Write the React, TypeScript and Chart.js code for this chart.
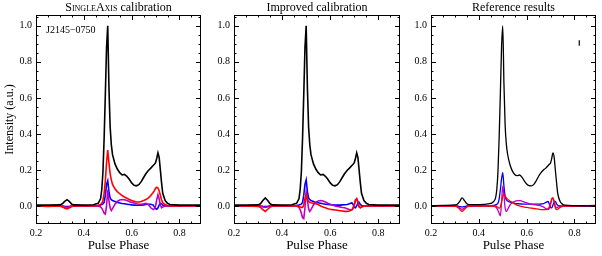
import React, { useEffect, useRef } from "react";
import { Chart, registerables } from "chart.js";
Chart.register(...registerables);

const FONT = "'Liberation Serif', 'Times New Roman', serif";

const PHASE = [
  0.2, 0.25, 0.3, 0.31, 0.32, 0.33, 0.34, 0.35, 0.36, 0.4,
  0.44, 0.46, 0.47, 0.475, 0.48, 0.485, 0.49, 0.495, 0.5, 0.505,
  0.51, 0.515, 0.52, 0.53, 0.54, 0.55, 0.56, 0.57, 0.58, 0.59,
  0.6, 0.61, 0.62, 0.63, 0.64, 0.65, 0.66, 0.67, 0.68, 0.69,
  0.695, 0.7, 0.705, 0.71, 0.715, 0.72, 0.725, 0.73, 0.74, 0.75,
  0.76, 0.8, 0.85, 0.9,
];

// SingleAxis calibration
const SA_I = [
  0.005, 0.005, 0.006, 0.012, 0.025, 0.035, 0.024, 0.01, 0.006, 0.005,
  0.007, 0.015, 0.04, 0.09, 0.19, 0.38, 0.62, 0.88, 1.0, 0.66,
  0.44, 0.34, 0.285, 0.235, 0.205, 0.185, 0.172, 0.175, 0.165, 0.148,
  0.128, 0.115, 0.112, 0.118, 0.135, 0.158, 0.18, 0.197, 0.21, 0.225,
  0.232, 0.24, 0.265, 0.295, 0.27, 0.2, 0.13, 0.07, 0.03, 0.015,
  0.008, 0.005, 0.005, 0.005,
];
const SA_Q = [
  0.0, -0.002, 0.0, -0.005, -0.012, -0.016, -0.01, -0.003, 0.0, 0.0,
  0.0, 0.003, 0.008, 0.015, 0.03, 0.07, 0.14, 0.24, 0.31, 0.24,
  0.18, 0.145, 0.12, 0.095, 0.08, 0.068, 0.058, 0.05, 0.043, 0.036,
  0.03, 0.026, 0.022, 0.022, 0.025, 0.03, 0.036, 0.045, 0.058, 0.075,
  0.085, 0.098, 0.104, 0.1, 0.085, 0.06, 0.035, 0.018, 0.008, 0.003,
  0.0, 0.0, 0.0, 0.0,
];
const SA_U = [
  0.0, 0.0, 0.0, -0.002, -0.005, -0.008, -0.004, 0.0, 0.0, 0.0,
  0.0, 0.0, -0.005, -0.012, -0.025, -0.04, -0.045, 0.0, 0.09, 0.03,
  -0.01, -0.025, -0.015, 0.01, 0.025, 0.033, 0.036, 0.035, 0.03, 0.025,
  0.02, 0.016, 0.012, 0.01, 0.01, 0.012, 0.015, 0.008, -0.01, -0.02,
  -0.015, 0.0, 0.035, 0.062, 0.04, 0.005, -0.01, -0.005, 0.0, 0.0,
  0.0, 0.0, 0.0, 0.0,
];
const SA_V = [
  0.0, 0.0, 0.0, 0.0, -0.002, -0.003, -0.002, 0.0, 0.0, 0.0,
  0.0, 0.002, 0.005, 0.008, 0.012, 0.02, 0.06, 0.12, 0.14, 0.08,
  0.045, 0.035, 0.03, 0.025, 0.02, 0.017, 0.014, 0.012, 0.01, 0.008,
  0.006, 0.005, 0.004, 0.004, 0.005, 0.006, 0.008, 0.01, 0.01, 0.005,
  -0.005, -0.015, -0.018, -0.01, 0.005, 0.015, 0.012, 0.005, 0.0, 0.0,
  0.0, 0.0, 0.0, 0.0,
];

// Improved calibration
const IMP_I = [
  0.005, 0.005, 0.006, 0.012, 0.03, 0.045, 0.03, 0.012, 0.006, 0.005,
  0.007, 0.015, 0.04, 0.09, 0.19, 0.38, 0.62, 0.88, 1.0, 0.66,
  0.44, 0.34, 0.285, 0.235, 0.205, 0.185, 0.172, 0.175, 0.165, 0.148,
  0.128, 0.115, 0.112, 0.118, 0.135, 0.158, 0.18, 0.197, 0.21, 0.225,
  0.232, 0.24, 0.265, 0.295, 0.27, 0.2, 0.13, 0.07, 0.03, 0.015,
  0.008, 0.005, 0.005, 0.005,
];
const IMP_Q = [
  0.0, 0.0, -0.002, -0.008, -0.02, -0.03, -0.018, -0.006, 0.0, 0.0,
  0.0, 0.0, -0.003, -0.005, -0.008, -0.008, 0.005, 0.04, 0.065, 0.04,
  0.025, 0.02, 0.018, 0.015, 0.012, 0.008, 0.0, -0.005, -0.01, -0.015,
  -0.018, -0.02, -0.022, -0.024, -0.026, -0.028, -0.03, -0.03, -0.028, -0.02,
  -0.01, 0.01, 0.035, 0.04, 0.02, -0.005, -0.01, -0.005, 0.0, 0.0,
  0.0, 0.0, 0.0, 0.0,
];
const IMP_U = [
  0.0, 0.0, 0.0, -0.002, -0.005, -0.008, -0.004, 0.0, 0.0, 0.0,
  0.0, 0.0, -0.008, -0.02, -0.04, -0.065, -0.07, -0.01, 0.075, 0.035,
  -0.015, -0.03, -0.02, 0.005, 0.02, 0.028, 0.03, 0.028, 0.022, 0.015,
  0.01, 0.005, 0.0, -0.003, -0.005, -0.008, -0.01, -0.015, -0.02, -0.022,
  -0.015, 0.005, 0.03, 0.04, 0.025, -0.005, -0.01, -0.005, 0.0, 0.0,
  0.0, 0.0, 0.0, 0.0,
];
const IMP_V = [
  0.0, 0.0, 0.0, 0.0, -0.002, -0.003, -0.002, 0.0, 0.0, 0.0,
  0.0, 0.002, 0.005, 0.008, 0.01, 0.02, 0.06, 0.12, 0.145, 0.08,
  0.045, 0.035, 0.03, 0.025, 0.02, 0.018, 0.015, 0.012, 0.01, 0.008,
  0.007, 0.006, 0.005, 0.005, 0.005, 0.006, 0.007, 0.008, 0.012, 0.018,
  0.008, -0.008, -0.01, 0.0, 0.015, 0.02, 0.01, 0.003, 0.0, 0.0,
  0.0, 0.0, 0.0, 0.0,
];

// Reference results
const REF_I = [
  0.002, 0.003, 0.006, 0.01, 0.025, 0.045, 0.03, 0.012, 0.008, 0.008,
  0.012, 0.022, 0.045, 0.09, 0.19, 0.38, 0.62, 0.88, 1.0, 0.68,
  0.45, 0.345, 0.29, 0.23, 0.195, 0.175, 0.168, 0.172, 0.16, 0.14,
  0.122, 0.113, 0.112, 0.12, 0.14, 0.165, 0.185, 0.2, 0.21, 0.225,
  0.232, 0.238, 0.265, 0.295, 0.27, 0.2, 0.13, 0.07, 0.025, 0.01,
  0.005, 0.002, 0.001, 0.0,
];
const REF_Q = [
  0.0, 0.0, 0.0, -0.005, -0.018, -0.03, -0.018, -0.005, 0.0, 0.0,
  0.0, 0.0, 0.0, -0.003, -0.008, -0.012, -0.005, 0.02, 0.055, 0.065,
  0.055, 0.045, 0.038, 0.028, 0.02, 0.012, 0.005, 0.0, -0.003, -0.006,
  -0.008, -0.01, -0.012, -0.014, -0.016, -0.018, -0.02, -0.02, -0.02, -0.015,
  -0.005, 0.015, 0.04, 0.045, 0.02, -0.01, -0.02, -0.018, -0.008, -0.002,
  0.0, 0.0, 0.002, 0.003,
];
const REF_U = [
  0.0, 0.0, 0.0, -0.003, -0.01, -0.018, -0.01, -0.003, 0.0, 0.0,
  0.0, 0.0, -0.005, -0.012, -0.025, -0.04, -0.055, 0.02, 0.11, 0.06,
  -0.01, -0.03, -0.02, 0.005, 0.018, 0.025, 0.03, 0.03, 0.027, 0.022,
  0.018, 0.013, 0.01, 0.007, 0.005, 0.003, 0.0, -0.005, -0.015, -0.02,
  -0.012, 0.01, 0.035, 0.045, 0.025, -0.002, -0.01, -0.006, 0.0, 0.0,
  0.0, 0.0, 0.0, 0.0,
];
const REF_V = [
  0.0, 0.0, 0.0, 0.0, -0.003, -0.006, -0.003, 0.0, 0.0, 0.0,
  0.0, 0.003, 0.006, 0.01, 0.015, 0.04, 0.09, 0.15, 0.185, 0.11,
  0.055, 0.035, 0.028, 0.022, 0.018, 0.015, 0.013, 0.012, 0.011, 0.01,
  0.01, 0.01, 0.01, 0.01, 0.01, 0.01, 0.011, 0.013, 0.02, 0.025,
  0.01, -0.008, -0.01, 0.005, 0.02, 0.025, 0.012, 0.004, 0.0, 0.0,
  0.0, 0.0, 0.0, 0.0,
];

// error bar in reference panel
const ERR_X = [0.82, 0.82];
const ERR_Y = [0.89, 0.92];

const X_MIN = 0.2;
const X_MAX = 0.89;
const Y_MIN = -0.1;
const Y_MAX = 1.06;
const X_TICKS = [0.2, 0.4, 0.6, 0.8];
const Y_TICKS = [0.0, 0.2, 0.4, 0.6, 0.8, 1.0];
const X_MINOR = [0.25, 0.3, 0.35, 0.45, 0.5, 0.55, 0.65, 0.7, 0.75, 0.85];
const Y_MINOR = [-0.05, 0.05, 0.1, 0.15, 0.25, 0.3, 0.35, 0.45, 0.5, 0.55, 0.65, 0.7, 0.75, 0.85, 0.9, 0.95, 1.05];

const SERIES_COLORS = ["#000000", "#ff0000", "#c000c0", "#0000ff"];

type PanelDef = {
  left: number;
  width: number;
  yWidth: number;
  padRight: number;
  titleSc: string;
  titleRest: string;
  label: string;
  yTitle: string;
  series: number[][];
  lineWidth: number;
  smooth: boolean;
  errorBar: boolean;
};

const PANELS: PanelDef[] = [
  { left: 0, width: 205, yWidth: 36, padRight: 4, titleSc: "SingleAxis", titleRest: " calibration", label: "J2145\u22120750", yTitle: "Intensity (a.u.)", series: [SA_I, SA_Q, SA_U, SA_V], lineWidth: 1.6, smooth: false, errorBar: false },
  { left: 205, width: 200, yWidth: 29, padRight: 5, titleSc: "", titleRest: "Improved calibration", label: "", yTitle: "", series: [IMP_I, IMP_Q, IMP_U, IMP_V], lineWidth: 1.6, smooth: false, errorBar: false },
  { left: 405, width: 197, yWidth: 26, padRight: 6, titleSc: "", titleRest: "Reference results", label: "", yTitle: "", series: [REF_I, REF_Q, REF_U, REF_V], lineWidth: 1.3, smooth: true, errorBar: true },
];

const near = (a: number[], v: number) => a.some((t) => Math.abs(t - v) < 1e-9);

const decor = {
  id: "decor",
  afterDraw(chart: any, _args: any, opts: any) {
    const { ctx, chartArea } = chart;
    const { left, right, top, bottom } = chartArea;
    const xs = chart.scales.x;
    const ys = chart.scales.y;
    ctx.save();
    ctx.strokeStyle = "#000";
    ctx.lineWidth = 1;
    ctx.strokeRect(left + 0.5, top + 0.5, right - left - 1, bottom - top - 1);
    ctx.beginPath();
    const major = 5;
    const minor = 2.5;
    for (const v of [...X_TICKS, ...X_MINOR]) {
      const L = near(X_TICKS, v) ? major : minor;
      const px = Math.round(xs.getPixelForValue(v)) + 0.5;
      if (px <= left + 1 || px >= right - 1) continue;
      ctx.moveTo(px, bottom);
      ctx.lineTo(px, bottom - L);
      ctx.moveTo(px, top);
      ctx.lineTo(px, top + L);
    }
    for (const v of [...Y_TICKS, ...Y_MINOR]) {
      const L = near(Y_TICKS, v) ? major : minor;
      const py = Math.round(ys.getPixelForValue(v)) + 0.5;
      if (py <= top + 1 || py >= bottom - 1) continue;
      ctx.moveTo(left, py);
      ctx.lineTo(left + L, py);
      ctx.moveTo(right, py);
      ctx.lineTo(right - L, py);
    }
    ctx.stroke();

    ctx.fillStyle = "#000";
    ctx.textBaseline = "middle";
    ctx.textAlign = "left";
    const scFont = `small-caps 12px ${FONT}`;
    const nFont = `12px ${FONT}`;
    let w1 = 0;
    if (opts.titleSc) {
      ctx.font = scFont;
      (ctx as any).fontVariantCaps = "small-caps";
      w1 = ctx.measureText(opts.titleSc).width;
    }
    ctx.font = nFont;
    (ctx as any).fontVariantCaps = "normal";
    const w2 = ctx.measureText(opts.titleRest).width;
    const x0 = (left + right) / 2 - (w1 + w2) / 2;
    const ty = 8;
    if (opts.titleSc) {
      ctx.font = scFont;
      (ctx as any).fontVariantCaps = "small-caps";
      ctx.fillText(opts.titleSc, x0, ty);
    }
    ctx.font = nFont;
    (ctx as any).fontVariantCaps = "normal";
    ctx.fillText(opts.titleRest, x0 + w1, ty);

    if (opts.label) {
      ctx.font = `10px ${FONT}`;
      ctx.fillText(opts.label, xs.getPixelForValue(0.242), ys.getPixelForValue(0.975));
    }
    ctx.restore();
  },
};

function Panel({ def }: { def: PanelDef }) {
  const ref = useRef<HTMLCanvasElement | null>(null);
  useEffect(() => {
    if (!ref.current) return;
    const datasets: any[] = def.series.map((arr, k) => ({
      data: PHASE.map((p, i) => ({ x: p, y: arr[i] })),
      borderColor: SERIES_COLORS[k],
      borderWidth: def.lineWidth,
      pointRadius: 0,
      fill: false,
      cubicInterpolationMode: def.smooth ? "monotone" : "default",
      tension: 0,
    }));
    if (def.errorBar) {
      datasets.push({
        data: ERR_X.map((x, i) => ({ x, y: ERR_Y[i] })),
        borderColor: "#000",
        borderWidth: 1.2,
        pointRadius: 0,
        fill: false,
      });
    }
    const chart = new Chart(ref.current, {
      type: "line",
      data: { datasets },
      plugins: [decor as any],
      options: {
        animation: false,
        responsive: false,
        devicePixelRatio: 1,
        layout: { padding: { top: 15, bottom: 0, left: 0, right: def.padRight } },
        plugins: {
          legend: { display: false },
          tooltip: { enabled: false },
          decor: { titleSc: def.titleSc, titleRest: def.titleRest, label: def.label },
        } as any,
        scales: {
          x: {
            type: "linear",
            min: X_MIN,
            max: X_MAX,
            grid: { display: false, drawTicks: false },
            border: { display: false },
            afterBuildTicks: (s: any) => {
              s.ticks = X_TICKS.map((v) => ({ value: v }));
            },
            afterFit: (s: any) => {
              s.height = 32;
            },
            ticks: {
              padding: 3,
              autoSkip: false,
              maxRotation: 0,
              color: "#000",
              font: { family: FONT, size: 10 },
              callback: (v: any) => Number(v).toFixed(1),
            },
            title: {
              display: true,
              text: "Pulse Phase",
              color: "#000",
              font: { family: FONT, size: 13 },
              padding: { top: 0, bottom: 3 },
            },
          },
          y: {
            type: "linear",
            min: Y_MIN,
            max: Y_MAX,
            grid: { display: false, drawTicks: false },
            border: { display: false },
            afterBuildTicks: (s: any) => {
              s.ticks = Y_TICKS.map((v) => ({ value: v }));
            },
            afterFit: (s: any) => {
              s.width = def.yWidth;
            },
            ticks: {
              padding: 4,
              autoSkip: false,
              color: "#000",
              font: { family: FONT, size: 10 },
              callback: (v: any) => Number(v).toFixed(1),
            },
            title: {
              display: !!def.yTitle,
              text: def.yTitle,
              color: "#000",
              font: { family: FONT, size: 12 },
              padding: { top: 3, bottom: 0 },
            },
          },
        },
      } as any,
    });
    return () => chart.destroy();
  }, [def]);
  return (
    <canvas
      ref={ref}
      width={def.width}
      height={256}
      style={{ position: "absolute", left: def.left, top: 0, width: def.width, height: 256 }}
    />
  );
}

export default function App() {
  return (
    <div style={{ position: "fixed", left: 0, top: 0, width: 602, height: 256, background: "#fff" }}>
      {PANELS.map((p, i) => (
        <Panel key={i} def={p} />
      ))}
    </div>
  );
}
